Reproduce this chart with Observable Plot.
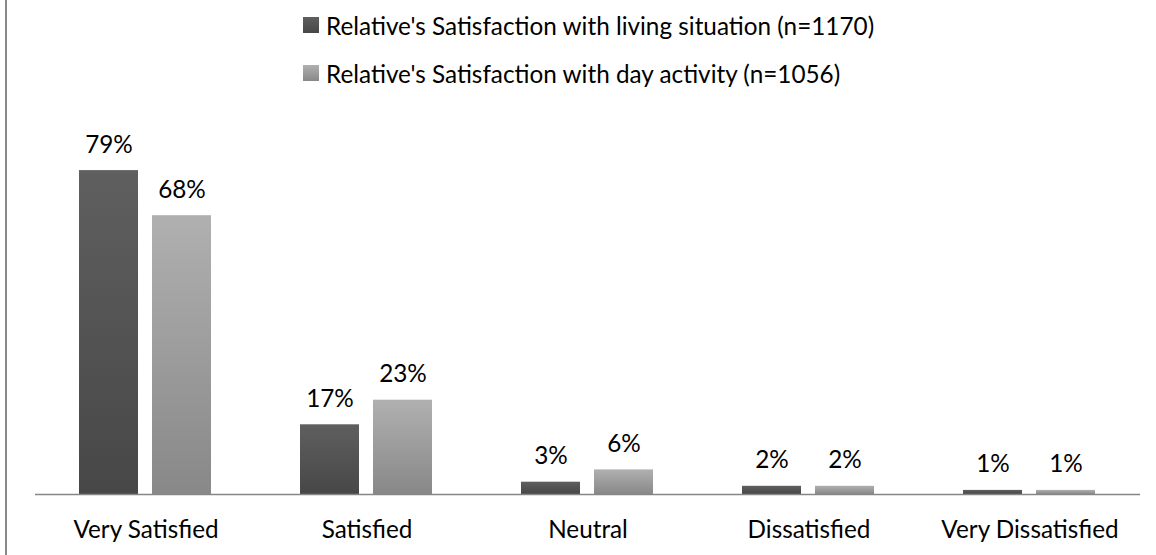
<!DOCTYPE html>
<html><head><meta charset="utf-8">
<script src="https://cdn.jsdelivr.net/npm/d3@7"></script>
<script src="https://cdn.jsdelivr.net/npm/@observablehq/plot@0.6"></script>
<style>
body{margin:0;background:#fff;font-family:Lato,sans-serif;}
#wrap{position:relative;width:1156px;height:555px;overflow:hidden;}
#legend{height:100px;position:relative;}
.row{position:absolute;left:303px;height:16px;display:flex;align-items:center;font-size:24.3px;color:#000;white-space:nowrap;}
.sw{width:16px;height:16px;margin-right:7px;flex:none;}
#border{position:absolute;left:5px;top:0;width:2px;height:555px;background:#888;}
</style></head>
<body><div id="wrap"><div id="legend"></div><div id="chart"></div><div id="border"></div></div>
<script>
const categories = ["Very Satisfied", "Satisfied", "Neutral", "Dissatisfied", "Very Dissatisfied"];
const seriesNames = ["Relative's Satisfaction with living situation (n=1170)", "Relative's Satisfaction with day activity (n=1056)"];
const livingValues = [79, 17, 3, 2, 1];
const dayValues = [68, 23, 6, 2, 1];

const data = [];
categories.forEach((c, i) => {
  data.push({cat: c, series: seriesNames[0], value: livingValues[i]});
  data.push({cat: c, series: seriesNames[1], value: dayValues[i]});
});

const FS = 24.3;
const plot = Plot.plot({
  width: 1156, height: 455,
  marginLeft: 35, marginRight: 16, marginTop: 25, marginBottom: 61,
  style: {fontFamily: "Lato, sans-serif", background: "transparent"},
  fx: {domain: categories, padding: 0, label: null},
  x: {domain: seriesNames, axis: null, paddingInner: 0.19, paddingOuter: 0.59},
  y: {domain: [0, 90], axis: null},
  marks: [
    Plot.barY(data, Plot.filter(d => d.series === seriesNames[0], {fx: "cat", x: "series", y: "value", fill: "url(#gDark)"})),
    Plot.barY(data, Plot.filter(d => d.series === seriesNames[1], {fx: "cat", x: "series", y: "value", fill: "url(#gLight)"})),
    Plot.ruleY([0], {stroke: "#868686", strokeWidth: 1.5}),
    Plot.text(data, {fx: "cat", x: "series", y: "value", text: d => d.value + "%", lineAnchor: "bottom", dy: -18, fontSize: FS, fill: "#000"}),
    Plot.axisFx({anchor: "bottom", tickSize: 0, tickPadding: 26, fontSize: FS, label: null, fill: "#000"})
  ]
});

const ns = "http://www.w3.org/2000/svg";
const defs = document.createElementNS(ns, "defs");
function grad(id, top, bottom) {
  const g = document.createElementNS(ns, "linearGradient");
  g.setAttribute("id", id); g.setAttribute("x1", "0"); g.setAttribute("y1", "0"); g.setAttribute("x2", "0"); g.setAttribute("y2", "1");
  [[0, top], [1, bottom]].forEach(([o, c]) => {
    const s = document.createElementNS(ns, "stop");
    s.setAttribute("offset", o); s.setAttribute("stop-color", c);
    g.appendChild(s);
  });
  defs.appendChild(g);
}
grad("gDark", "#5f5f5f", "#474747");
grad("gLight", "#b0b0b0", "#888888");
plot.insertBefore(defs, plot.firstChild);
document.getElementById("chart").appendChild(plot);

const legend = document.getElementById("legend");
const swatches = ["linear-gradient(#5f5f5f,#474747)", "linear-gradient(#b0b0b0,#888888)"];
seriesNames.forEach((s, i) => {
  const row = document.createElement("div");
  row.className = "row";
  row.style.top = (17 + i * 48) + "px";
  const sw = document.createElement("div");
  sw.className = "sw"; sw.style.background = swatches[i];
  row.appendChild(sw);
  const t = document.createElement("span"); t.textContent = s;
  row.appendChild(t);
  legend.appendChild(row);
});
</script>
</body></html>
